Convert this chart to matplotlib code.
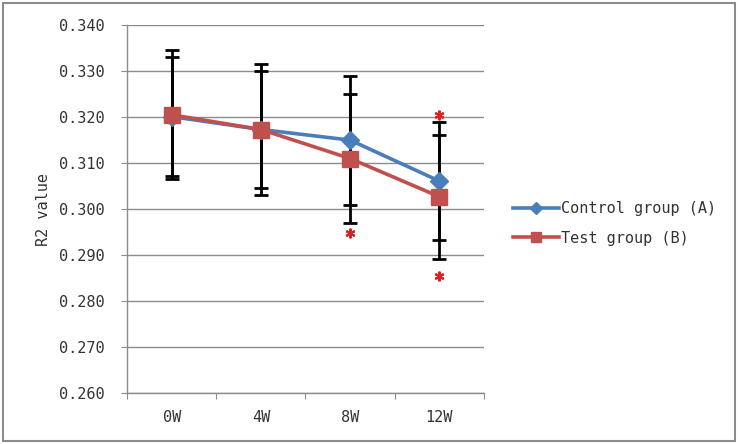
import numpy as np
import matplotlib
matplotlib.use("Agg")
import matplotlib.pyplot as plt
from matplotlib.patches import Rectangle

# data
weeks = ["0W", "4W", "8W", "12W"]
control = [0.3201, 0.3173, 0.3150, 0.3061]
control_err = [0.0130, 0.0127, 0.0140, 0.0129]
test = [0.3205, 0.3173, 0.3110, 0.3027]
test_err = [0.0140, 0.0142, 0.0141, 0.0135]

# significance asterisks (week index, value)
sig_week = [2, 3, 3]
sig_value = [0.2949, 0.3204, 0.2855]

y_ticks = [0.260, 0.270, 0.280, 0.290, 0.300, 0.310, 0.320, 0.330, 0.340]

BLUE = "#4A7EBB"
RED = "#C0504D"
GRID = "#8C8C8C"
TEXT = "#333333"

plt.rcParams["font.family"] = ["DejaVu Sans Mono", "DejaVu Sans"]
plt.rcParams["font.size"] = 11

fig = plt.figure(figsize=(7.38, 4.44), dpi=100)
ax = fig.add_axes([0.1721, 0.1142, 0.4837, 0.8295])

x = np.arange(len(weeks))

# error bars first so the lines sit on top
ax.errorbar(x, control, yerr=control_err, fmt="none", ecolor="black",
            elinewidth=2, capsize=5, capthick=2, zorder=2)
ax.errorbar(x, test, yerr=test_err, fmt="none", ecolor="black",
            elinewidth=2, capsize=5, capthick=2, zorder=2)

ax.plot(x, control, color=BLUE, lw=2.6, marker="D", markersize=9,
        label="Control group (A)", zorder=3)
ax.plot(x, test, color=RED, lw=2.6, marker="s", markersize=12,
        label="Test group (B)", zorder=4)

ax.plot(sig_week, sig_value, linestyle="none", marker=(6, 2, 0),
        markersize=7, markeredgewidth=1.5, color="#E02020", zorder=5)

ax.set_ylim(0.260, 0.340)
ax.set_yticks(y_ticks)
ax.set_yticklabels([f"{v:.3f}" for v in y_ticks])
ax.yaxis.grid(True, color=GRID, linewidth=1)
ax.set_axisbelow(True)

ax.set_xlim(-0.5, len(weeks) - 0.5)
ax.set_xticks(np.arange(-0.5, len(weeks)), labels=[""] * (len(weeks) + 1))
ax.set_xticks(x, labels=weeks, minor=True)
ax.tick_params(axis="x", which="major", length=4, color=GRID)
ax.tick_params(axis="x", which="minor", length=0, pad=12, labelcolor=TEXT)
ax.tick_params(axis="y", length=4, color=GRID, pad=12, labelcolor=TEXT)

for side in ("top", "right"):
    ax.spines[side].set_visible(False)
for side in ("left", "bottom"):
    ax.spines[side].set_color(GRID)
    ax.spines[side].set_linewidth(1)

ax.set_ylabel("R2 value", labelpad=6, color=TEXT)

fig.legend(loc="center left", bbox_to_anchor=(0.695, 0.497), frameon=False,
           handlelength=3.0, handletextpad=0.15, labelspacing=0.95,
           borderpad=0, borderaxespad=0, labelcolor=TEXT, markerscale=0.65)

# outer chart border
fig.patches.append(Rectangle((0.004, 0.006), 0.992, 0.988, transform=fig.transFigure,
                             fill=False, edgecolor="#8C8C8C", linewidth=1.5))

fig.savefig("out.png", dpi=100)
